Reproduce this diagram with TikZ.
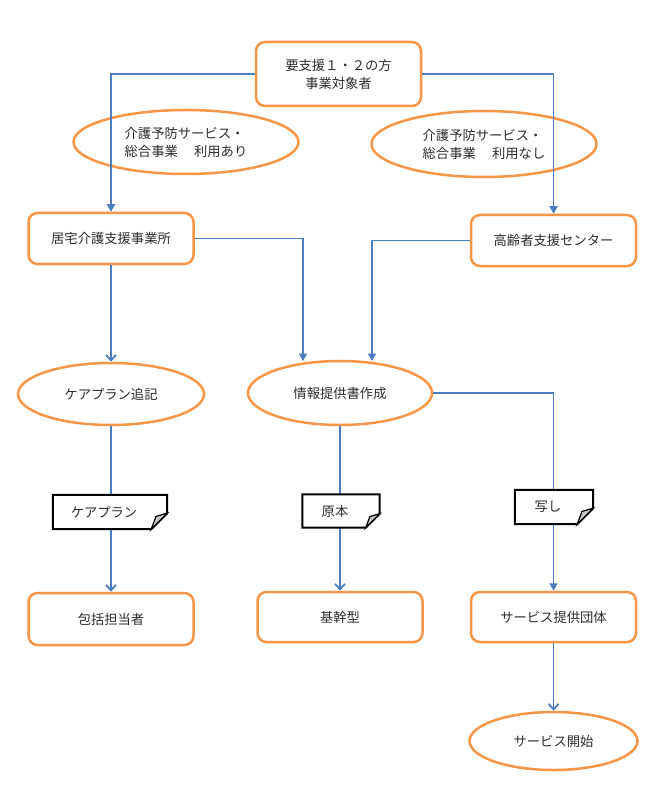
\documentclass[tikz,border=0pt]{standalone}
\usepackage{fontspec}
\setmainfont{Noto Sans CJK JP}
\usetikzlibrary{shapes.geometric,arrows.meta,calc}
\definecolor{boxorange}{HTML}{F79646}
\definecolor{lineblue}{HTML}{4A7EBF}
\definecolor{txtgray}{HTML}{2E2E2E}
\tikzset{
  every node/.style={font=\fontsize{13.3}{18}\selectfont, text=txtgray},
  rbox/.style={draw=boxorange, line width=2.5pt, rounded corners=9pt, fill=white, minimum width=165pt, inner sep=0pt},
  oval/.style={draw=boxorange, line width=2.5pt, ellipse, inner sep=0pt},
  docframe/.style={draw=black, line width=2pt, fill=white, line join=miter},
  docfold/.style={draw=black, line width=1.2pt, fill=gray!45},
  conn/.style={draw=lineblue, line width=1.8pt},
  arrf/.style={conn, -{Triangle[width=8pt,length=7.5pt]}},
  arro/.style={conn, -{Straight Barb[width=10pt,length=5.5pt,line width=1.8pt]}},
  docspace/.style={inner sep=0pt}
}
\begin{document}
\begin{tikzpicture}[x=1pt,y=-1pt]
\useasboundingbox[fill=white] (0,0) rectangle (650,791);

% boxes
\node[rbox, minimum height=64pt, align=center] (top) at (338.5,74) {要支援１・２の方\\事業対象者};
\node[rbox, minimum height=51pt] (kyo) at (111,238.5) {居宅介護支援事業所};
\node[rbox, minimum height=51pt] (kou) at (553.5,240.5) {高齢者支援センター};
\node[rbox, minimum height=52pt] (houk) at (111,619) {包括担当者};
\node[rbox, minimum height=50pt] (kikan) at (340,617) {基幹型};
\node[rbox, minimum height=50pt] (svc) at (553.5,617) {サービス提供団体};

% ellipses
\node[oval, minimum width=225pt, minimum height=64pt, align=left] (ovl) at (186,142) {介護予防サービス・\\総合事業　 利用あり};
\node[oval, minimum width=225pt, minimum height=66pt, align=left] (ovr) at (484,144) {介護予防サービス・\\総合事業　 利用なし};
\node[oval, minimum width=186pt, minimum height=62pt] (care) at (111,394) {ケアプラン追記};
\node[oval, minimum width=184pt, minimum height=64pt] (joho) at (340,393) {情報提供書作成};
\node[oval, minimum width=168pt, minimum height=58pt] (start) at (553.5,741) {サービス開始};

% document placeholders
\node[docspace, minimum width=114pt, minimum height=34pt] (d1) at (110,512) {};
\node[docspace, minimum width=77pt, minimum height=33pt] (d2) at (341,511) {};
\node[docspace, minimum width=78pt, minimum height=34pt] (d3) at (554,507) {};

% connectors
\coordinate (j1) at (303,361);
\coordinate (j2) at (372,361);
\draw[arrf] (top.west) -| (kyo.north);
\draw[arrf] (top.east) -| (kou.north);
\draw[arrf] (kyo.east) -| (j1);
\draw[arrf] (kou.west) -| (j2);
\draw[arro] (kyo.south) -- (care.north);
\draw[conn] (care.south) -- (care.south |- d1.north);
\draw[arro] (care.south |- d1.south) -- (houk.north);
\draw[conn] (joho.south) -- (joho.south |- d2.north);
\draw[arro] (joho.south |- d2.south) -- (kikan.north);
\draw[conn] (joho.east) -| (svc.north |- d3.north);
\draw[arrf] (svc.north |- d3.south) -- (svc.north);
\draw[arro] (svc.south) -- (start.north);

% documents
\foreach \d/\f/\t in {d1/16/ケアプラン, d2/14/原本, d3/16/写し}{
  \draw[docframe] (\d.north west) -- (\d.north east) -- ([yshift=\f pt]\d.south east) -- ([xshift=-\f pt]\d.south east) -- (\d.south west) -- cycle;
  \draw[docfold] ([xshift=-\f pt]\d.south east) .. controls ([xshift=-0.8*\f pt, yshift=0.4*\f pt]\d.south east) .. ([xshift=-0.7*\f pt, yshift=0.8*\f pt]\d.south east) -- ([yshift=\f pt]\d.south east) -- cycle;
  \node[anchor=center] at ([xshift=-6pt]\d.center) {\t};
}
\end{tikzpicture}
\end{document}
